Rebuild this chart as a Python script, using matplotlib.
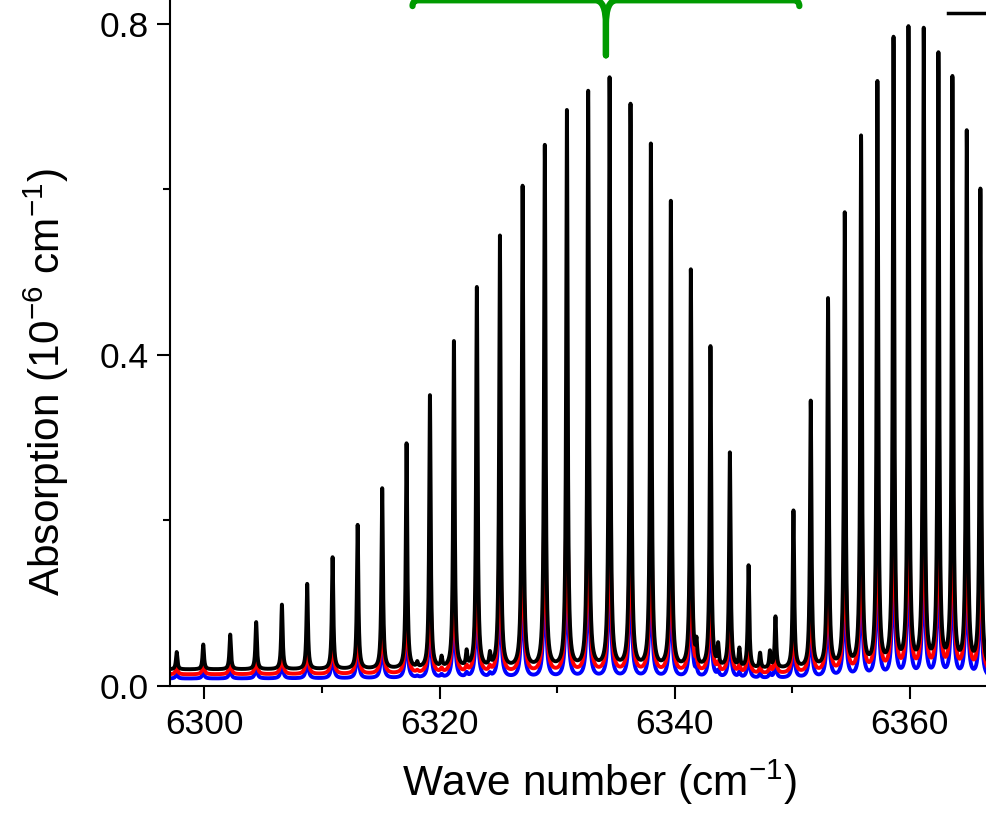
import numpy as np
import matplotlib
matplotlib.use('Agg')
import matplotlib.pyplot as plt
from matplotlib.path import Path
from matplotlib.patches import PathPatch
from matplotlib.ticker import MultipleLocator
from matplotlib.lines import Line2D

plt.rcParams['font.family'] = ['Liberation Sans', 'DejaVu Sans']
plt.rcParams['mathtext.fontset'] = 'custom'
plt.rcParams['mathtext.rm'] = 'Liberation Sans'
plt.rcParams['mathtext.it'] = 'Liberation Sans:italic'
plt.rcParams['mathtext.default'] = 'regular'

# strong lines: centre (cm-1) and height above baseline of the black trace
line_pos = [6297.64, 6299.90, 6302.19, 6304.40, 6306.59, 6308.74, 6310.90,
            6313.03, 6315.12, 6317.19, 6319.18, 6321.22, 6323.17, 6325.13,
            6327.06, 6328.95, 6330.83, 6332.64, 6334.46, 6336.24, 6337.97,
            6339.67, 6341.37, 6343.04, 6344.69, 6346.28, 6348.57, 6350.10,
            6351.57, 6353.04, 6354.46, 6355.85, 6357.24, 6358.61, 6359.88,
            6361.18, 6362.43, 6363.62, 6364.84, 6366.00]
line_amp = [0.021, 0.030, 0.042, 0.057, 0.078, 0.103, 0.135,
            0.174, 0.218, 0.272, 0.330, 0.395, 0.460, 0.522,
            0.582, 0.631, 0.673, 0.696, 0.712, 0.680, 0.632,
            0.563, 0.480, 0.388, 0.260, 0.124, 0.062, 0.190,
            0.322, 0.445, 0.548, 0.640, 0.705, 0.758, 0.770,
            0.768, 0.738, 0.710, 0.645, 0.577]

# weak lines between the strong ones
weak_pos = [6318.10, 6320.17, 6322.30, 6324.28, 6341.85, 6343.69,
            6345.50, 6347.26, 6348.10]
weak_amp = [0.006, 0.012, 0.018, 0.015, 0.025, 0.025,
            0.022, 0.018, 0.020]

# the three traces: baseline, relative strength and half width
trace_colors = ['blue', 'red', 'black']
trace_base = [0.009, 0.014, 0.020]
trace_scale = [0.27, 0.38, 1.0]
trace_hwhm = [0.105, 0.11, 0.075]

x_min, x_max = 6297.07, 6370.2
y_min, y_max = 0.0, 0.84

fig = plt.figure(figsize=(9.86, 8.17), dpi=100)
ax = fig.add_axes([0.1724, 0.1603, 0.872, 0.851])

wn = np.linspace(x_min, x_max, 20000)
pos = np.array(line_pos + weak_pos)
amp = np.array(line_amp + weak_amp)

for color, base, scale, g in zip(trace_colors, trace_base, trace_scale,
                                 trace_hwhm):
    spec = np.full_like(wn, base)
    for p, a in zip(pos, amp):
        spec += scale * a * g ** 2 / ((wn - p) ** 2 + g ** 2)
    ax.plot(wn, spec, color=color, lw=2.8)

ax.set_xlim(x_min, x_max)
ax.set_ylim(y_min, y_max)

ax.xaxis.set_major_locator(MultipleLocator(20))
ax.xaxis.set_minor_locator(MultipleLocator(10))
ax.yaxis.set_major_locator(MultipleLocator(0.4))
ax.yaxis.set_minor_locator(MultipleLocator(0.2))
ax.yaxis.set_major_formatter(plt.FuncFormatter(lambda v, _: '%.1f' % v))

ax.tick_params(which='major', direction='out', length=9.5, width=1.5,
               labelsize=25.5, pad=6)
ax.tick_params(which='minor', direction='out', length=5, width=1.5)
ax.tick_params(top=False, right=False)
for side in ['left', 'bottom']:
    ax.spines[side].set_linewidth(1.5)
for side in ['top', 'right']:
    ax.spines[side].set_visible(False)

ax.set_xlabel('Wave number (cm$^{-1}$)', fontsize=30.5, labelpad=12)
ax.set_ylabel('Absorption (10$^{-6}$ cm$^{-1}$)', fontsize=30.5)
ax.yaxis.set_label_coords(-0.115, 0.437)

# green brace over the central band
brace_left, brace_right, brace_mid = 6317.7, 6350.6, 6334.15
brace_top, brace_end, brace_tip = 0.8285, 0.8215, 0.762
verts = [
    (brace_left, brace_end), (brace_left, brace_top),
    (brace_left + 0.5, brace_top),
    (brace_mid - 0.9, brace_top),
    (brace_mid, brace_top), (brace_mid, brace_top - 0.03),
    (brace_mid, brace_tip),
    (brace_right, brace_end), (brace_right, brace_top),
    (brace_right - 0.5, brace_top),
    (brace_mid + 0.9, brace_top),
    (brace_mid, brace_top), (brace_mid, brace_top - 0.03),
    (brace_mid, brace_tip),
]
codes = [Path.MOVETO, Path.CURVE3, Path.CURVE3, Path.LINETO,
         Path.CURVE3, Path.CURVE3, Path.LINETO] * 2
brace = PathPatch(Path(verts, codes), facecolor='none', edgecolor='#009a00',
                  lw=4.5, capstyle='round', joinstyle='round', clip_on=False)
ax.add_patch(brace)

# legend key, its text falls outside the picture
ax.legend(handles=[Line2D([], [], color='black', lw=2.5)], labels=[''],
          loc='upper left', bbox_to_anchor=(948 / 986, 1 - 3 / 817),
          bbox_transform=fig.transFigure, frameon=False, borderpad=0,
          borderaxespad=0, handlelength=2.5, fontsize=20)

fig.savefig('out.png', dpi=100)
